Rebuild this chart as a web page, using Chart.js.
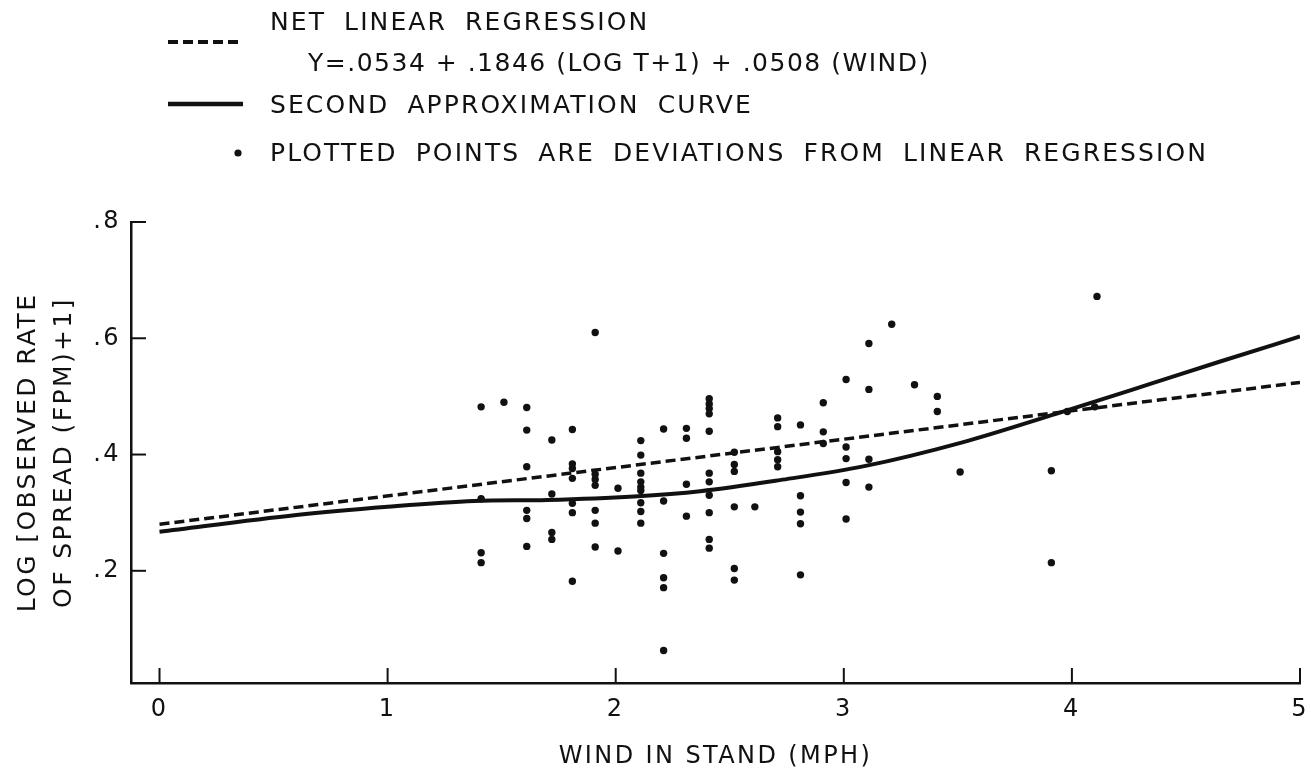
<!DOCTYPE html>
<html>
<head>
<meta charset="utf-8">
<script src="https://cdn.jsdelivr.net/npm/chart.js@4.4.1/dist/chart.umd.min.js"></script>
<style>
  body { margin: 0; background: #fff; }
  #wrap { position: relative; width: 1311px; height: 771px; }
  #spreadChart { position: absolute; left: 0; top: 0; }
  .key {
    position: absolute;
    font-family: "DejaVu Sans", sans-serif;
    font-size: 25px;
    letter-spacing: 2.1px;
    word-spacing: 8px;
    line-height: 30px;
    color: #111;
    white-space: nowrap;
  }
  .key.eq { letter-spacing: 1.5px; word-spacing: 0; }
  .swatch { position: absolute; }
</style>
</head>
<body>
<div id="wrap">
  <canvas id="spreadChart"></canvas>

  <svg class="swatch" style="left:165px; top:34px" width="80" height="16">
    <line x1="3" y1="8" x2="76" y2="8" stroke="#111" stroke-width="4" stroke-dasharray="10,5"/>
  </svg>
  <div class="key" style="left:270px; top:7px">NET LINEAR REGRESSION</div>
  <div class="key eq" style="left:308px; top:48px">Y=.0534 + .1846 (LOG T+1) + .0508 (WIND)</div>

  <svg class="swatch" style="left:165px; top:96px" width="82" height="16">
    <line x1="3" y1="8" x2="78" y2="8" stroke="#111" stroke-width="4.5"/>
  </svg>
  <div class="key" style="left:270px; top:90px">SECOND APPROXIMATION CURVE</div>

  <svg class="swatch" style="left:230px; top:145px" width="16" height="16">
    <circle cx="8" cy="8" r="3.6" fill="#111"/>
  </svg>
  <div class="key" style="left:270px; top:138px">PLOTTED POINTS ARE DEVIATIONS FROM LINEAR REGRESSION</div>
</div>

<script>
// observed wind (mph) and log rate deviations, one entry per dot
const windObs = [
  1.41, 1.41, 1.41, 1.41,
  1.51,
  1.61, 1.61, 1.61, 1.61, 1.61, 1.61,
  1.72, 1.72, 1.72, 1.72,
  1.81, 1.81, 1.81, 1.81, 1.81, 1.81, 1.81,
  1.91, 1.91, 1.91, 1.91, 1.91, 1.91, 1.91,
  2.01, 2.01,
  2.11, 2.11, 2.11, 2.11, 2.11, 2.11, 2.11, 2.11, 2.11,
  2.21, 2.21, 2.21, 2.21, 2.21, 2.21,
  2.31, 2.31, 2.31, 2.31,
  2.41, 2.41, 2.41, 2.41, 2.41, 2.41, 2.41, 2.41, 2.41, 2.41, 2.41,
  2.52, 2.52, 2.52, 2.52, 2.52, 2.52,
  2.61,
  2.71, 2.71, 2.71, 2.71, 2.71,
  2.81, 2.81, 2.81, 2.81, 2.81,
  2.91, 2.91, 2.91,
  3.01, 3.01, 3.01, 3.01, 3.01,
  3.11, 3.11, 3.11, 3.11,
  3.21, 3.31, 3.41, 3.41, 3.51,
  3.91, 3.91, 3.98, 4.10, 4.11
];
const logRateObs = [
  0.482, 0.324, 0.231, 0.214,
  0.490,
  0.481, 0.442, 0.379, 0.304, 0.290, 0.242,
  0.425, 0.332, 0.266, 0.254,
  0.443, 0.384, 0.376, 0.359, 0.316, 0.300, 0.182,
  0.610, 0.366, 0.357, 0.347, 0.304, 0.282, 0.241,
  0.342, 0.234,
  0.424, 0.399, 0.368, 0.353, 0.344, 0.338, 0.317, 0.302, 0.282,
  0.444, 0.320, 0.230, 0.188, 0.171, 0.063,
  0.445, 0.428, 0.349, 0.294,
  0.496, 0.487, 0.479, 0.470, 0.440, 0.368, 0.353, 0.330, 0.300, 0.254, 0.239,
  0.404, 0.383, 0.371, 0.310, 0.204, 0.184,
  0.310,
  0.463, 0.448, 0.405, 0.391, 0.379,
  0.451, 0.329, 0.301, 0.281, 0.193,
  0.489, 0.439, 0.419,
  0.529, 0.413, 0.393, 0.352, 0.289,
  0.591, 0.512, 0.392, 0.344,
  0.624, 0.520, 0.500, 0.474, 0.370,
  0.372, 0.214, 0.474, 0.482, 0.672
];

// net linear regression (straight dashed line)
const regressionWind = [0, 5];
const regressionLog = [0.280, 0.524];

// second approximation curve
const curveWind = [0, 0.6, 1.0, 1.38, 1.7, 2.08, 2.37, 2.72, 3.09, 3.52, 3.93, 4.34, 4.65, 5.0];
const curveLog = [0.267, 0.296, 0.310, 0.320, 0.322, 0.328, 0.337, 0.356, 0.380, 0.421, 0.470, 0.521, 0.560, 0.603];

const xTicks = [0, 1, 2, 3, 4, 5];
const yTicks = [0.2, 0.4, 0.6, 0.8];

const ink = "#111";
const fontFamily = "'DejaVu Sans', sans-serif";

function toPoints(xs, ys) {
  return xs.map((x, i) => ({ x: x, y: ys[i] }));
}

// ticks on this figure point into the plot, so draw them ourselves
const inwardTicks = {
  id: "inwardTicks",
  afterDraw(chart) {
    const { ctx, scales: { x, y }, chartArea } = chart;
    ctx.save();
    ctx.strokeStyle = ink;
    ctx.lineWidth = 2;
    xTicks.forEach((v) => {
      const px = x.getPixelForValue(v);
      ctx.beginPath();
      ctx.moveTo(px, chartArea.bottom);
      ctx.lineTo(px, chartArea.bottom - 15);
      ctx.stroke();
    });
    yTicks.forEach((v) => {
      const py = y.getPixelForValue(v);
      ctx.beginPath();
      ctx.moveTo(chartArea.left, py);
      ctx.lineTo(chartArea.left + 15, py);
      ctx.stroke();
    });
    ctx.restore();
  },
};

// spaced lettering for the axis text
const spacedText = {
  id: "spacedText",
  beforeDraw(chart) {
    chart.ctx.letterSpacing = "2.4px";
  },
};

const ctx = document.getElementById("spreadChart").getContext("2d");

new Chart(ctx, {
  type: "scatter",
  data: {
    datasets: [
      {
        label: "Plotted points",
        data: toPoints(windObs, logRateObs),
        backgroundColor: ink,
        borderWidth: 0,
        pointRadius: 3.7,
      },
      {
        label: "Net linear regression",
        data: toPoints(regressionWind, regressionLog),
        showLine: true,
        borderColor: ink,
        borderWidth: 3.5,
        borderDash: [10, 5],
        pointRadius: 0,
      },
      {
        label: "Second approximation curve",
        data: toPoints(curveWind, curveLog),
        showLine: true,
        borderColor: ink,
        borderWidth: 4,
        cubicInterpolationMode: "monotone",
        pointRadius: 0,
      },
    ],
  },
  options: {
    responsive: true,
    maintainAspectRatio: false,
    animation: false,
    layout: {
      padding: { top: 222, right: 11, left: 0, bottom: 0 },
    },
    plugins: {
      legend: { display: false },
      tooltip: { enabled: false },
    },
    scales: {
      x: {
        type: "linear",
        min: -0.125,
        max: 5,
        afterBuildTicks: (scale) => {
          scale.ticks = xTicks.map((v) => ({ value: v }));
        },
        afterFit: (scale) => {
          scale.height = 88;
          scale.paddingLeft = 0;
          scale.paddingRight = 0;
        },
        grid: { display: false, drawTicks: false },
        border: { display: true, color: ink, width: 2.5 },
        ticks: {
          color: ink,
          padding: 12,
          maxRotation: 0,
          font: { family: fontFamily, size: 24 },
          callback: (v) => String(v),
        },
        title: {
          display: true,
          text: "WIND IN STAND (MPH)",
          color: ink,
          padding: { top: 10, bottom: 0 },
          font: { family: fontFamily, size: 24 },
        },
      },
      y: {
        min: 0.007,
        max: 0.8,
        afterBuildTicks: (scale) => {
          scale.ticks = yTicks.map((v) => ({ value: v }));
        },
        afterFit: (scale) => {
          scale.width = 131;
        },
        grid: { display: false, drawTicks: false },
        border: { display: true, color: ink, width: 2.5 },
        ticks: {
          color: ink,
          padding: 10,
          font: { family: fontFamily, size: 24 },
          callback: (v) => String(Number(v).toFixed(1)).replace(/^0/, ""),
        },
        title: {
          display: true,
          text: ["LOG [OBSERVED RATE", "OF SPREAD (FPM)+1]"],
          color: ink,
          padding: { top: 11, bottom: 0 },
          font: { family: fontFamily, size: 25, lineHeight: 1.42 },
        },
      },
    },
  },
  plugins: [spacedText, inwardTicks],
});
</script>
</body>
</html>
